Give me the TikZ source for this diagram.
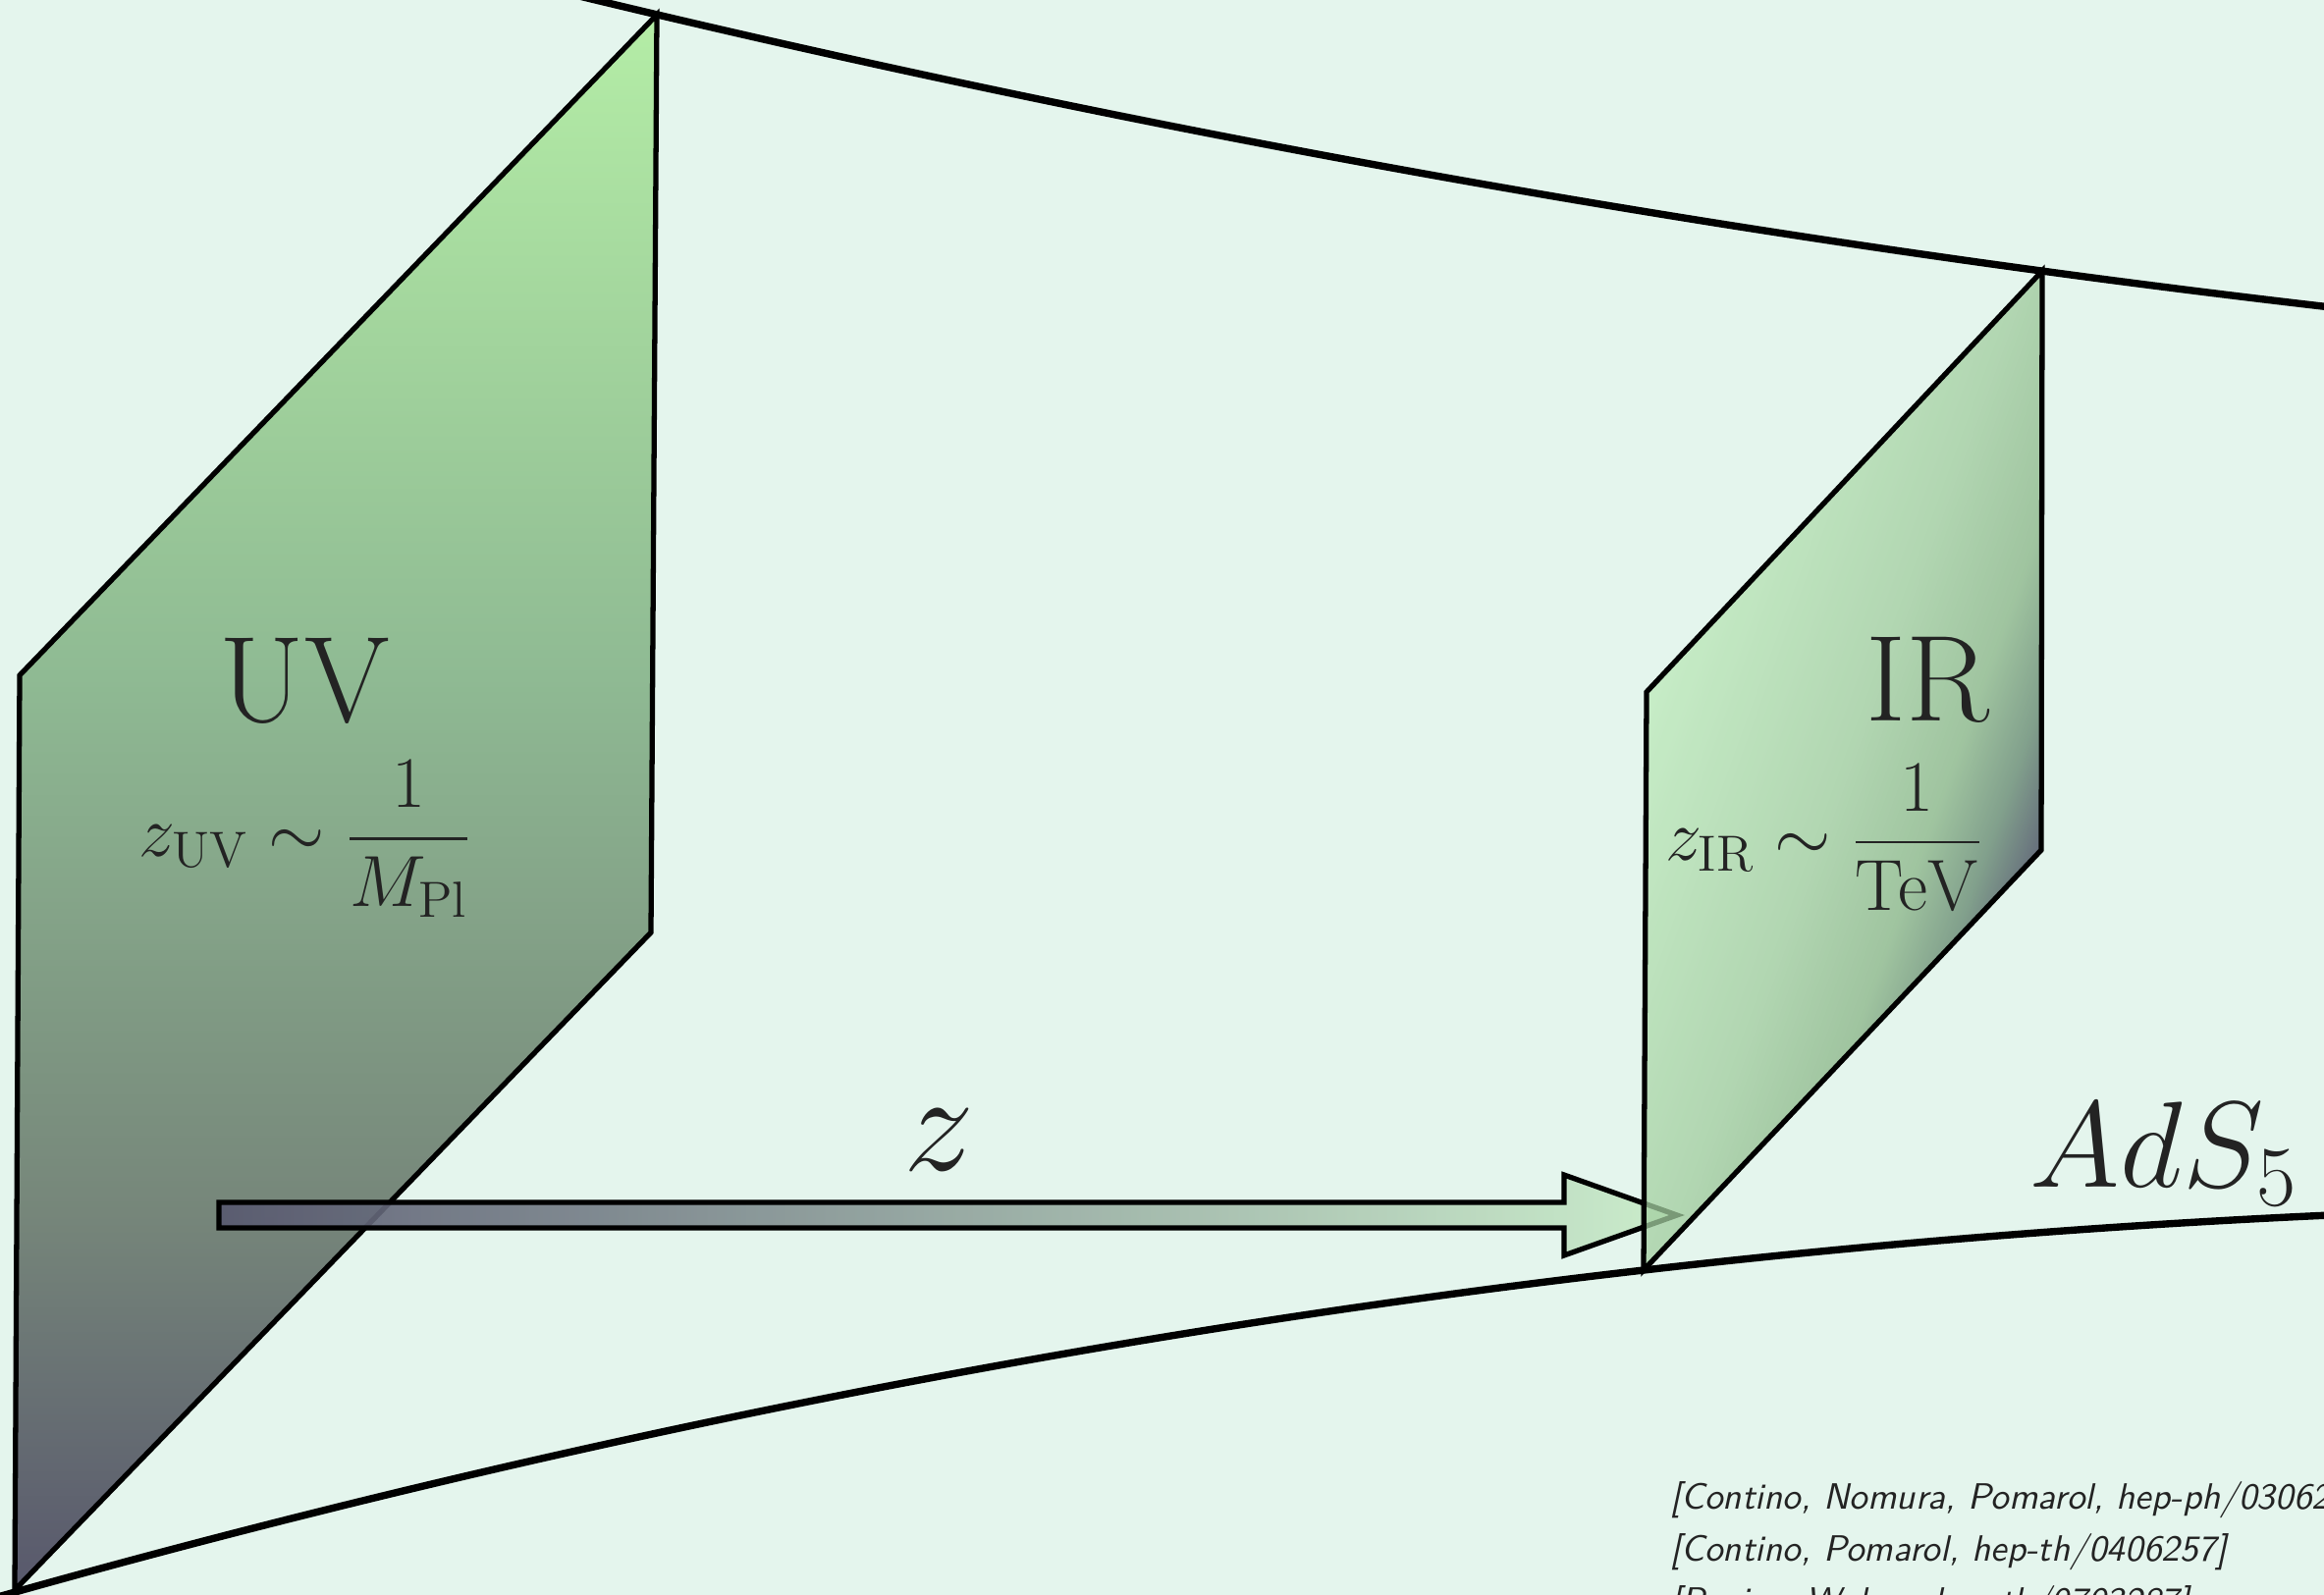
\RequirePackage{fix-cm}
\documentclass[tikz,border=0pt]{standalone}
\usepackage{amsmath}
\usepackage{tikz}
\usetikzlibrary{calc}
\definecolor{adsbg}{RGB}{228,245,237}
\definecolor{adsink}{RGB}{35,35,35}
\definecolor{uvA}{RGB}{88,88,108}
\definecolor{uvB}{RGB}{118,134,122}
\definecolor{uvC}{RGB}{143,186,147}
\definecolor{uvD}{RGB}{180,237,166}
\definecolor{irA}{RGB}{191,236,188}
\definecolor{irB}{RGB}{161,204,158}
\definecolor{irC}{RGB}{137,180,134}
\definecolor{irD}{RGB}{97,132,108}
\definecolor{irE}{RGB}{51,49,81}
\definecolor{zdark}{RGB}{88,88,112}
\definecolor{zlight}{RGB}{200,236,200}
\pgfdeclareverticalshading{uvshade}{100bp}{color(0bp)=(uvA); color(25bp)=(uvA);
  color(37bp)=(uvB); color(54bp)=(uvC); color(75bp)=(uvD); color(100bp)=(uvD)}
\pgfdeclarehorizontalshading{irshade}{100bp}{color(0bp)=(irA); color(39bp)=(irA);
  color(50bp)=(irB); color(55bp)=(irC); color(58bp)=(irD); color(61bp)=(irE);
  color(100bp)=(irE)}
\tikzset{
  adsEdge/.style={draw=black, line width=2.1pt},
  braneEdge/.style={draw=black, line width=1.5pt, line join=miter},
  zArrow/.style={draw=black, line width=1.5pt, left color=zdark, right color=zlight,
                 fill opacity=0.9},
  braneName/.style={text=adsink, font=\fontsize{35.5}{42}\selectfont},
  braneScale/.style={text=adsink, font=\fontsize{21}{25}\selectfont},
  bigMath/.style={text=adsink, font=\fontsize{#1}{44}\selectfont},
  refList/.style={text=adsink, font=\fontsize{10.6}{15.1}\selectfont\sffamily\slshape,
                  align=left, anchor=north west, inner sep=0pt}
}

\begin{document}
\begin{tikzpicture}[x=0.01cm, y=-0.01cm]
  \useasboundingbox (0,0) rectangle (2367,1625);
  \clip (0,0) rectangle (2367,1625);
  \fill[adsbg] (0,0) rectangle (2367,1625);

  \draw[adsEdge] (500,-26) .. controls (1133,131) and (1767,244) .. (2400,316);
  \draw[adsEdge] (-20,1632) .. controls (793,1401) and (1607,1269) .. (2420,1236);

  \coordinate (uvTL) at (20,688);
  \coordinate (uvTR) at (669,15);
  \coordinate (uvBR) at (663,950);
  \coordinate (uvBL) at (15,1620);
  \path[braneEdge, shade, shading=uvshade] (uvTL) -- (uvTR) -- (uvBR) -- (uvBL) -- cycle;

  \coordinate (zfrom) at (223,1238);
  \coordinate (zto) at (1708,1238);
  \path[zArrow] (zfrom) ++(0,-13) -- ++(1370,0) -- ++(0,-28) -- (zto)
    -- ++(-115,41) -- ++(0,-28) -- ++(-1370,0) -- cycle;

  \coordinate (irTL) at (1677,705);
  \coordinate (irTR) at (2080,276);
  \coordinate (irBR) at (2079,866);
  \coordinate (irBL) at (1674,1294);
  \coordinate (irMid) at (1877,785);
  \begin{scope}
    \clip (irTL) -- (irTR) -- (irBR) -- (irBL) -- cycle;
    \shade[shading=irshade, shading angle=-20, fill opacity=0.75]
      (irMid) ++(-520,-520) rectangle ++(1040,1040);
  \end{scope}
  \draw[braneEdge] (irTL) -- (irTR) -- (irBR) -- (irBL) -- cycle;

  \node[braneName] (uvName) at (310,694) {UV};
  \node[braneScale] (uvScale) at (311,855) {$z_{\mathrm{UV}}\sim\dfrac{1}{M_{\mathrm{Pl}}}$};
  \node[braneName] (irName) at (1963,693) {IR};
  \node[braneScale] (irScale) at (1858,853) {$z_{\mathrm{IR}}\sim\dfrac{1}{\mathrm{TeV}}$};
  \node[bigMath=41] (zName) at (956,1161) {$z$};
  \node[bigMath=35.5] (adsName) at (2204,1176) {$AdS_5$};
  \node[refList] (refs) at (1701,1509) {{[}Contino, Nomura, Pomarol, hep-ph/0306259]\\
    {[}Contino, Pomarol, hep-th/0406257]\\
    {[}Panico, Wulzer, hep-th/0703287]};
\end{tikzpicture}
\end{document}
